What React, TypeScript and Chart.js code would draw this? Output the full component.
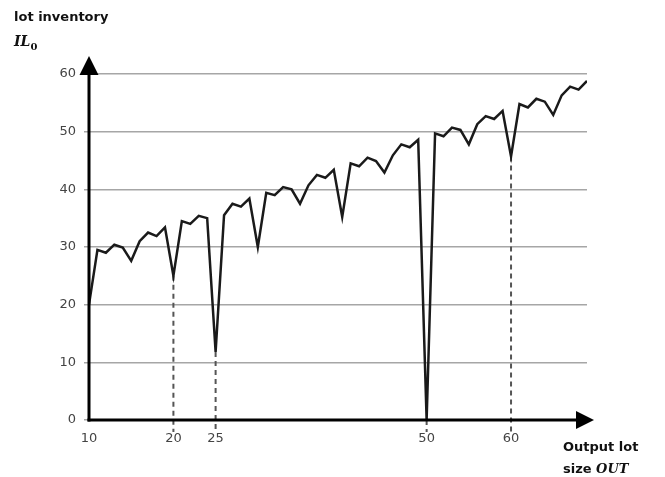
import React, { useEffect, useRef } from "react";
import { Chart, registerables } from "chart.js";

Chart.register(...registerables);

const outSizes = [
  10, 11, 12, 13, 14, 15, 16, 17, 18, 19,
  20, 21, 22, 23, 24, 25, 26, 27, 28, 29,
  30, 31, 32, 33, 34, 35, 36, 37, 38, 39,
  40, 41, 42, 43, 44, 45, 46, 47, 48, 49,
  50, 51, 52, 53, 54, 55, 56, 57, 58, 59,
  60, 61, 62, 63, 64, 65, 66, 67, 68, 69,
];

const inventory = [
  20.0, 29.5, 29.0, 30.4, 29.9, 27.6, 31.0, 32.5, 31.9, 33.4,
  25.0, 34.5, 34.0, 35.4, 35.0, 11.8, 35.5, 37.5, 37.0, 38.4,
  30.0, 39.4, 39.0, 40.4, 40.0, 37.5, 40.7, 42.5, 42.0, 43.4,
  35.2, 44.5, 44.0, 45.5, 44.9, 42.9, 45.9, 47.8, 47.3, 48.6,
  0.0, 49.7, 49.2, 50.7, 50.3, 47.8, 51.3, 52.7, 52.2, 53.6,
  45.7, 54.8, 54.2, 55.7, 55.2, 52.9, 56.3, 57.8, 57.3, 58.8,
];

const markedOut = [10, 20, 25, 50, 60];
const dashedOut = [20, 25, 50, 60];
const yTicks = [0, 10, 20, 30, 40, 50, 60];

const axesPlugin = {
  id: "axesArrows",
  beforeDatasetsDraw(chart: any) {
    const { ctx, scales } = chart;
    const xs = scales.x;
    const ys = scales.y;
    ctx.save();
    ctx.strokeStyle = "#555";
    ctx.lineWidth = 2;
    ctx.setLineDash([5, 4]);
    dashedOut.forEach((v) => {
      const idx = outSizes.indexOf(v);
      const px = xs.getPixelForValue(v);
      const py = ys.getPixelForValue(inventory[idx]);
      ctx.beginPath();
      ctx.moveTo(px, py);
      ctx.lineTo(px, ys.getPixelForValue(0) + 12);
      ctx.stroke();
    });
    ctx.restore();
  },
  afterDatasetsDraw(chart: any) {
    const { ctx, chartArea } = chart;
    const l = chartArea.left;
    const b = chartArea.bottom;
    const t = chartArea.top;
    ctx.save();
    ctx.strokeStyle = "#000";
    ctx.fillStyle = "#000";
    ctx.lineWidth = 3;
    ctx.setLineDash([]);
    // y axis
    ctx.beginPath();
    ctx.moveTo(l, b + 1.5);
    ctx.lineTo(l, t - 2);
    ctx.stroke();
    ctx.beginPath();
    ctx.moveTo(l, t - 18);
    ctx.lineTo(l - 9.5, t + 1);
    ctx.lineTo(l + 9.5, t + 1);
    ctx.closePath();
    ctx.fill();
    // x axis
    ctx.beginPath();
    ctx.moveTo(l - 1.5, b);
    ctx.lineTo(chartArea.right - 8, b);
    ctx.stroke();
    ctx.beginPath();
    ctx.moveTo(chartArea.right + 7, b);
    ctx.lineTo(chartArea.right - 11, b - 9);
    ctx.lineTo(chartArea.right - 11, b + 9);
    ctx.closePath();
    ctx.fill();
    ctx.restore();
  },
};

export default function App() {
  const canvasRef = useRef<HTMLCanvasElement | null>(null);

  useEffect(() => {
    if (!canvasRef.current) return;
    const chart = new Chart(canvasRef.current, {
      type: "line",
      data: {
        datasets: [
          {
            data: outSizes.map((x, i) => ({ x, y: inventory[i] })),
            borderColor: "#1a1a1a",
            borderWidth: 2.5,
            pointRadius: 0,
            tension: 0,
            fill: false,
          },
        ],
      },
      options: {
        animation: false,
        responsive: false,
        devicePixelRatio: 1,
        layout: { padding: { top: 74, right: 78, left: 0, bottom: 0 } },
        plugins: { legend: { display: false }, tooltip: { enabled: false } },
        scales: {
          x: {
            type: "linear",
            min: 10,
            max: 69,
            grid: { display: false, drawTicks: false },
            border: { display: false },
            afterBuildTicks: (s: any) => {
              s.ticks = markedOut.map((v) => ({ value: v }));
            },
            afterFit: (s: any) => {
              s.height = 57;
            },
            ticks: {
              autoSkip: false,
              maxRotation: 0,
              padding: 11,
              color: "#444",
              font: { family: "DejaVu Sans", size: 13 },
              callback: (v: any) => String(v),
            },
          },
          y: {
            type: "linear",
            min: 0,
            max: 60,
            afterBuildTicks: (s: any) => {
              s.ticks = yTicks.map((v) => ({ value: v }));
            },
            afterFit: (s: any) => {
              s.width = 89;
            },
            grid: {
              color: "#a6a6a6",
              lineWidth: 1.5,
              drawTicks: true,
              tickLength: 5,
              tickColor: "#a6a6a6",
            },
            border: { display: false },
            ticks: {
              padding: 8,
              color: "#444",
              font: { family: "DejaVu Sans", size: 13 },
            },
          },
        },
      },
      plugins: [axesPlugin],
    });
    return () => chart.destroy();
  }, []);

  const bold: React.CSSProperties = {
    position: "absolute",
    fontFamily: "DejaVu Sans",
    fontWeight: "bold",
    fontSize: 13,
    color: "#111",
    whiteSpace: "nowrap",
    lineHeight: "16px",
  };
  const serifIt: React.CSSProperties = {
    fontFamily: "DejaVu Serif",
    fontStyle: "italic",
    fontWeight: "bold",
  };

  return (
    <div style={{ position: "absolute", left: 0, top: 0, width: 665, height: 477, background: "#fff" }}>
      <canvas ref={canvasRef} width={665} height={477} style={{ display: "block" }} />
      <div style={{ ...bold, left: 14, top: 9 }}>lot inventory</div>
      <div style={{ ...bold, left: 14, top: 33, fontSize: 14 }}>
        <span style={serifIt}>IL</span>
        <sub style={{ fontSize: 10, fontFamily: "DejaVu Serif", fontWeight: "bold" }}>0</sub>
      </div>
      <div style={{ ...bold, left: 563, top: 439 }}>Output lot</div>
      <div style={{ ...bold, left: 563, top: 461 }}>
        size <span style={serifIt}>OUT</span>
      </div>
    </div>
  );
}
